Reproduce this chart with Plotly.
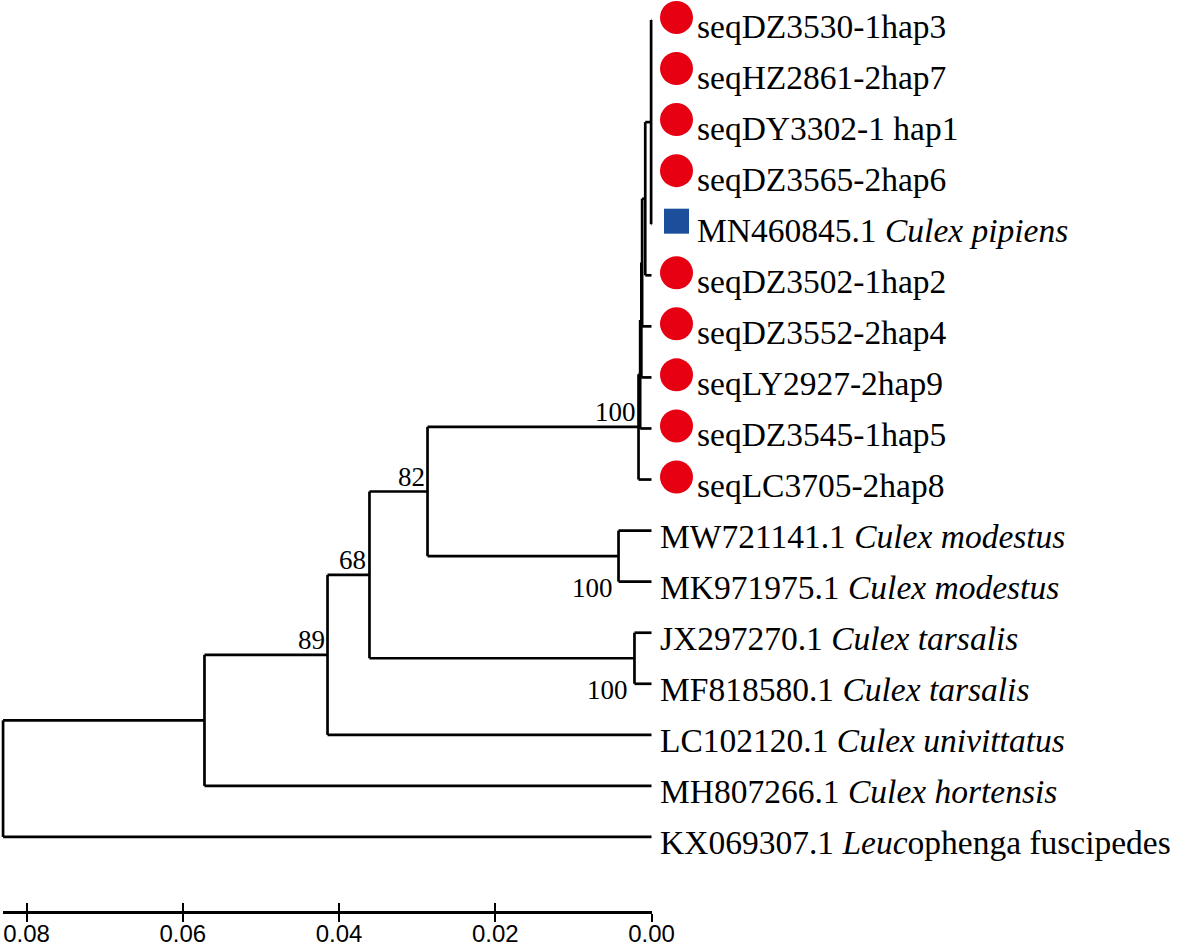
import plotly.graph_objects as go

# ---------------- data ----------------
leaf_labels = [
    "seqDZ3530-1hap3", "seqHZ2861-2hap7", "seqDY3302-1 hap1", "seqDZ3565-2hap6",
    "MN460845.1 <i>Culex pipiens</i>",
    "seqDZ3502-1hap2", "seqDZ3552-2hap4", "seqLY2927-2hap9", "seqDZ3545-1hap5", "seqLC3705-2hap8",
    "MW721141.1 <i>Culex modestus</i>", "MK971975.1 <i>Culex modestus</i>",
    "JX297270.1 <i>Culex tarsalis</i>", "MF818580.1 <i>Culex tarsalis</i>",
    "LC102120.1 <i>Culex univittatus</i>", "MH807266.1 <i>Culex hortensis</i>",
    "KX069307.1 <i>Leuc</i>ophenga fuscipedes",
]
leaf_group = ["sample"] * 4 + ["reference"] + ["sample"] * 5 + ["other"] * 7

node_names = ["N1", "N2", "N3", "N4", "N5", "C100", "MOD", "TAR", "N82", "N68", "N89", "N57", "ROOT"]
node_children = [
    [0, 1, 2, 3, 4], ["N1", 5], ["N2", 6], ["N3", 7], ["N4", 8], ["N5", 9],
    [10, 11], [12, 13], ["C100", "MOD"], ["N82", "TAR"], ["N68", 14], ["N89", 15], ["N57", 16],
]
node_heights = [0.00005, 0.0008, 0.0012, 0.0013, 0.00145, 0.00166,
                0.00422, 0.00218, 0.02867, 0.0361, 0.04147, 0.05722, 0.0830]
node_support = [None, None, None, None, None, 100, 100, 100, 82, 68, 89, None, None]
support_side = [None, None, None, None, None, "above", "below", "below", "above", "above", "above", None, None]

scale_ticks = [0.08, 0.06, 0.04, 0.02, 0.00]
scale_text = ["0.08", "0.06", "0.04", "0.02", "0.00"]

# ---------------- layout helpers ----------------
W, H = 1179, 950
PPU = 7812.5          # pixels per unit distance
X0_PX = 651.5         # pixel of distance 0
Y0_PX, Y_STEP = 20.0, 51.06
RED, BLUE = "#E60012", "#1B4F9C"

height_of = {n: h for n, h in zip(node_names, node_heights)}
children_of = {n: c for n, c in zip(node_names, node_children)}
y_of = {}


def ypos(c):
    if isinstance(c, int):
        return float(c)
    if c in y_of:
        return y_of[c]
    ch = children_of[c]
    y_of[c] = (ypos(ch[0]) + ypos(ch[-1])) / 2.0
    return y_of[c]


def hpos(c):
    return 0.0 if isinstance(c, int) else height_of[c]


for n in node_names:
    ypos(n)

xs, ys = [], []
for n in node_names:
    ch = children_of[n]
    hx = height_of[n]
    xs += [hx, hx, None]
    ys += [ypos(ch[0]), ypos(ch[-1]), None]
    for c in ch:
        xs += [hx, hpos(c), None]
        ys += [ypos(c), ypos(c), None]

fig = go.Figure()
fig.add_trace(go.Scatter(x=xs, y=ys, mode="lines", line=dict(color="black", width=2.7),
                         hoverinfo="skip", showlegend=False))

MARK_DX = 25.0 / PPU
samp = [i for i, g in enumerate(leaf_group) if g == "sample"]
refs = [i for i, g in enumerate(leaf_group) if g == "reference"]
fig.add_trace(go.Scatter(x=[-MARK_DX] * len(samp), y=[i - 0.05 for i in samp], mode="markers",
                         marker=dict(symbol="circle", size=33, color=RED, line=dict(width=0)),
                         hoverinfo="skip", showlegend=False))
fig.add_trace(go.Scatter(x=[-MARK_DX] * len(refs), y=[i - 0.06 for i in refs], mode="markers",
                         marker=dict(symbol="square", size=25, color=BLUE, line=dict(width=0)),
                         hoverinfo="skip", showlegend=False))

annotations = []
for i, lab in enumerate(leaf_labels):
    shift = 43 if leaf_group[i] != "other" else 6
    annotations.append(dict(x=0, y=i, xref="x", yref="y", text=lab, showarrow=False,
                            xanchor="left", yanchor="middle", xshift=shift, yshift=-6,
                            font=dict(family="Liberation Serif", size=33.5, color="black")))

for n, s, side in zip(node_names, node_support, support_side):
    if s is None:
        continue
    if side == "above":
        annotations.append(dict(x=height_of[n], y=ypos(n), xref="x", yref="y", text=str(s),
                                showarrow=False, xanchor="right", yanchor="bottom", xshift=-1, yshift=-2,
                                font=dict(family="Liberation Serif", size=27, color="black")))
    else:
        annotations.append(dict(x=height_of[n], y=ypos(children_of[n][-1]), xref="x", yref="y", text=str(s),
                                showarrow=False, xanchor="right", yanchor="middle", xshift=-4, yshift=-6,
                                font=dict(family="Liberation Serif", size=27, color="black")))

# dummy traces so the scale axes are drawn
fig.add_trace(go.Scatter(x=[0.04], y=[-50], xaxis="x2", yaxis="y", mode="markers",
                         marker=dict(opacity=0), hoverinfo="skip", showlegend=False))
fig.add_trace(go.Scatter(x=[0.04], y=[-50], xaxis="x3", yaxis="y", mode="markers",
                         marker=dict(opacity=0), hoverinfo="skip", showlegend=False))

scale_left_px, scale_right_px = 3.0, 652.0
axis_pos = (H - 912.0) / H
x2_range = [(X0_PX - scale_left_px) / PPU, (X0_PX - scale_right_px) / PPU]
x2_domain = [scale_left_px / W, scale_right_px / W]

fig.update_layout(
    width=W, height=H,
    margin=dict(l=0, r=0, t=0, b=0, autoexpand=False),
    showlegend=False,
    paper_bgcolor="white", plot_bgcolor="rgba(0,0,0,0)",
    xaxis=dict(domain=[0, 1], range=[X0_PX / PPU, (X0_PX - W) / PPU], visible=False, fixedrange=True,
               automargin=False),
    yaxis=dict(domain=[0, 1], range=[(H - Y0_PX) / Y_STEP, -Y0_PX / Y_STEP], visible=False, fixedrange=True,
               automargin=False),
    xaxis2=dict(domain=x2_domain, range=x2_range, anchor="free", position=axis_pos, side="bottom",
                showline=True, linecolor="black", linewidth=2.7, showgrid=False, zeroline=False,
                ticks="outside", ticklen=8, tickwidth=2.4, tickcolor="black", automargin=False,
                tickvals=scale_ticks, ticktext=scale_text, ticklabelstandoff=-9,
                tickfont=dict(family="Liberation Sans", size=24, color="black")),
    xaxis3=dict(domain=x2_domain, range=x2_range, anchor="free", position=axis_pos, side="bottom",
                overlaying="x2", showline=False, showgrid=False, zeroline=False, automargin=False,
                ticks="inside", ticklen=9, tickwidth=2.4, tickcolor="black",
                tickvals=scale_ticks, showticklabels=False),
    annotations=annotations,
)

fig.write_html("out.html", config={"displayModeBar": False},
               post_script="document.body.style.margin='0px';document.documentElement.style.overflow='hidden';")
